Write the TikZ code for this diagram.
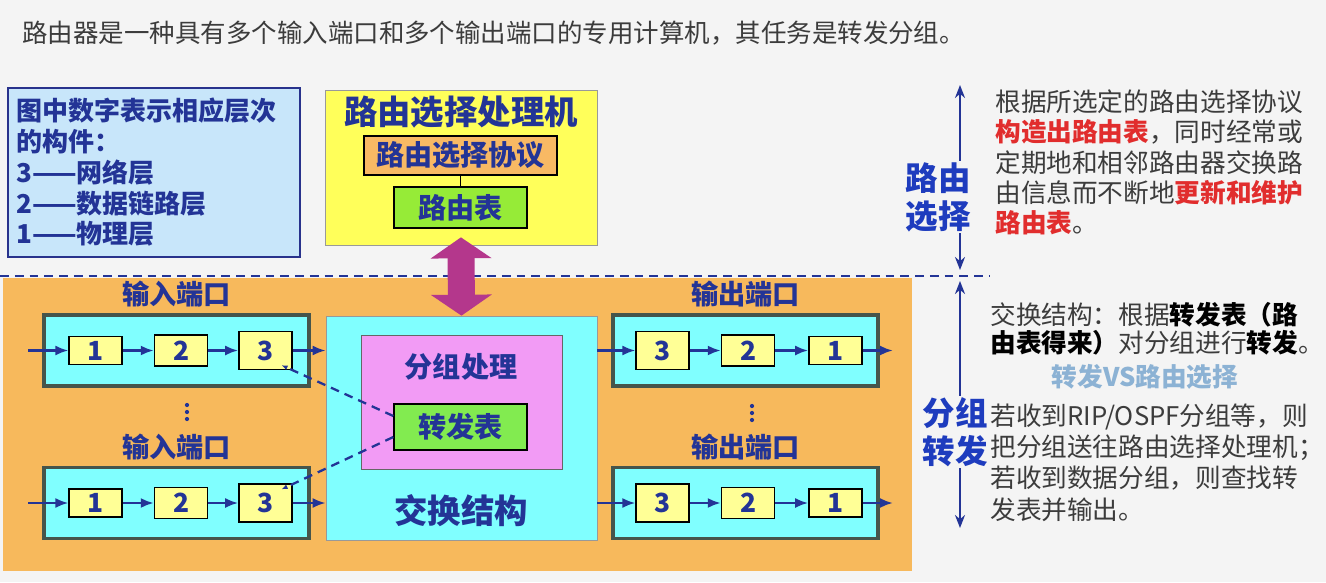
\documentclass[tikz,border=0pt]{standalone}
\usepackage{fontspec}
\setmainfont{Noto Sans CJK SC}
\usetikzlibrary{arrows.meta,positioning,calc}
\definecolor{bgcol}{RGB}{244,244,244}
\definecolor{orangebg}{RGB}{247,185,92}
\definecolor{txtblue}{RGB}{35,52,150}
\definecolor{lblblue}{RGB}{30,60,190}
\definecolor{lgfill}{RGB}{200,230,250}
\definecolor{lgedge}{RGB}{40,50,140}
\definecolor{rpyellow}{RGB}{255,255,90}
\definecolor{protoorange}{RGB}{248,185,100}
\definecolor{tblgreen}{RGB}{150,235,55}
\definecolor{ftgreen}{RGB}{130,235,80}
\definecolor{cyanfill}{RGB}{128,255,255}
\definecolor{pinkfill}{RGB}{242,155,245}
\definecolor{lyrfill}{RGB}{255,255,150}
\definecolor{magarr}{RGB}{180,55,140}
\definecolor{portedge}{RGB}{70,85,75}
\definecolor{hlred}{RGB}{225,45,45}
\definecolor{txtgray}{RGB}{60,60,60}
\definecolor{vsblue}{RGB}{140,178,212}
\newcommand{\hlr}[1]{\textcolor{hlred}{\bfseries #1}}
\newcommand{\hlb}[1]{\textcolor{black}{\bfseries #1}}
\tikzset{
    portbox/.style={rectangle, draw=portedge, fill=cyanfill, line width=1.8pt,
                    minimum width=5.3cm, minimum height=1.42cm},
    lyr/.style={rectangle, draw=black, fill=lyrfill, thick, inner sep=0pt,
                minimum width=1.06cm, minimum height=#1, text=txtblue,
                font=\fontsize{15}{18}\selectfont\bfseries},
    plbl/.style={text=txtblue, inner sep=1pt, font=\fontsize{15.5}{18}\selectfont\bfseries},
    tbl/.style={rectangle, draw=black, fill=#1, thick, text=txtblue,
                font=\fontsize{16}{19}\selectfont\bfseries},
    arr/.style={-{Latex[length=0.26cm,width=0.2cm]}, line width=1.4pt, draw=txtblue},
    dsh/.style={dash pattern=on 5pt off 3.5pt, line width=1.3pt, draw=txtblue,
                -{Latex[length=0.12cm,width=0.1cm]}},
    varr/.style={{Stealth[length=0.26cm,width=0.2cm]}-{Stealth[length=0.26cm,width=0.2cm]},
                 line width=1.3pt, draw=txtblue},
    sidelbl/.style={fill=bgcol, inner sep=1pt, align=center, text=lblblue,
                    font=\fontsize{18.5}{21.5}\selectfont\bfseries},
    rtext/.style={anchor=west, inner sep=0pt, align=left, text=txtgray},
}

\begin{document}
\begin{tikzpicture}[x=0.02cm, y=-0.02cm]
    \fill[bgcol] (0,0) rectangle (1326,582);
    \useasboundingbox (0,0) rectangle (1326,582);

    \node[anchor=west, inner sep=0pt, text=txtgray, font=\fontsize{14.5}{17}\selectfont] (title) at (22,33)
        {路由器是一种具有多个输入端口和多个输出端口的专用计算机，其任务是转发分组。};

    % legend
    \node[rectangle, draw=lgedge, fill=lgfill, line width=1.6pt, minimum width=5.84cm,
          minimum height=3.38cm, text width=5.5cm, align=left, text=txtblue,
          font=\fontsize{14.8}{17.5}\selectfont\bfseries] (legend) at (154,172.5)
        {图中数字表示相应层次\\的构件：\\3——网络层\\2——数据链路层\\1——物理层};

    % routing processor
    \node[rectangle, draw=black!40, fill=rpyellow, minimum width=5.44cm, minimum height=3.1cm] (rp) at (461,167.5) {};
    \node[text=txtblue, font=\fontsize{19}{22}\selectfont\bfseries] (rpname) at (461,112) {路由选择处理机};
    \node[tbl=protoorange, minimum width=3.86cm, minimum height=0.78cm] (proto) at (460.5,155.5) {路由选择协议};
    \node[tbl=tblgreen, minimum width=2.66cm, minimum height=0.82cm] (rtab) at (460.5,207.5) {路由表};
    \draw[thick] (proto) -- (rtab);

    % forwarding part
    \fill[orangebg] (3,278) rectangle (912,571);
    \draw[dash pattern=on 5pt off 3.4pt, line width=1.6pt, txtblue] (0,276) -- (990,276);

    \node[rectangle, draw=black!40, fill=cyanfill, minimum width=5.42cm, minimum height=4.48cm] (sw) at (461.5,428) {};
    \node[rectangle, draw=black!60, fill=pinkfill, minimum width=4.02cm, minimum height=2.68cm] (pk) at (461.5,402) {};
    \node[text=txtblue, font=\fontsize{16}{19}\selectfont\bfseries] (pkname) at (461,367) {分组处理};
    \node[tbl=ftgreen, minimum width=2.66cm, minimum height=0.92cm] (ft) at (460.5,427) {转发表};
    \node[text=txtblue, font=\fontsize{19}{22}\selectfont\bfseries] (swname) at (461,511) {交换结构};

    \draw[magarr, line width=0.54cm, shorten <=-0.16cm,
          {Triangle[length=0.42cm,width=1.2cm]}-{Triangle[length=0.42cm,width=1.2cm]}] (rp.south) -- (sw.north);

    % input ports
    \node[portbox] (ip1) at (176.5,350.5) {};
    \node[lyr=0.56cm, right=0.52cm of ip1.west] (ip1a) {1};
    \node[lyr=0.62cm, right=0.62cm of ip1a] (ip1b) {2};
    \node[lyr=0.76cm, right=0.6cm of ip1b] (ip1c) {3};
    \node[plbl, above=0.08cm of ip1] (ip1l) {输入端口};

    \node[portbox] (ip2) at (176.5,503) {};
    \node[lyr=0.56cm, right=0.52cm of ip2.west] (ip2a) {1};
    \node[lyr=0.62cm, right=0.62cm of ip2a] (ip2b) {2};
    \node[lyr=0.76cm, right=0.6cm of ip2b] (ip2c) {3};
    \node[plbl, above=0.08cm of ip2] (ip2l) {输入端口};

    \coordinate (ipdots) at (187,412);
    \coordinate (opdots) at (752,413);
    \foreach \dy in {-7,0,7} {
        \fill[txtblue] ($(ipdots)+(0,\dy)$) circle (1.2pt);
        \fill[txtblue] ($(opdots)+(0,\dy)$) circle (1.2pt);
    }

    \coordinate (ip1s) at (28,350.5);
    \coordinate (ip2s) at (28,503);
    \draw[arr] (ip1s) -- (ip1a);
    \draw[arr] (ip1a) -- (ip1b);
    \draw[arr] (ip1b) -- (ip1c);
    \draw[arr] (ip1c) -- (ip1c -| sw.west);
    \draw[arr] (ip2s) -- (ip2a);
    \draw[arr] (ip2a) -- (ip2b);
    \draw[arr] (ip2b) -- (ip2c);
    \draw[arr] (ip2c) -- (ip2c -| sw.west);

    \draw[dsh] ($(ft.west)+(0,-11)$) -- ($(ip1c.south east)+(-11,-5)$);
    \draw[dsh] ($(ft.west)+(0,10)$) -- ($(ip2c.north east)+(-11,6)$);

    % output ports
    \node[portbox] (op1) at (745.5,350.5) {};
    \node[lyr=0.76cm, right=0.48cm of op1.west] (op1a) {3};
    \node[lyr=0.62cm, right=0.62cm of op1a] (op1b) {2};
    \node[lyr=0.56cm, right=0.66cm of op1b] (op1c) {1};
    \node[plbl, above=0.08cm of op1] (op1l) {输出端口};

    \node[portbox] (op2) at (745.5,503) {};
    \node[lyr=0.76cm, right=0.48cm of op2.west] (op2a) {3};
    \node[lyr=0.62cm, right=0.62cm of op2a] (op2b) {2};
    \node[lyr=0.56cm, right=0.66cm of op2b] (op2c) {1};
    \node[plbl, above=0.08cm of op2] (op2l) {输出端口};

    \coordinate (op1e) at (893,350.5);
    \coordinate (op2e) at (893,503);
    \draw[arr] (op1a -| sw.east) -- (op1a);
    \draw[arr] (op1a) -- (op1b);
    \draw[arr] (op1b) -- (op1c);
    \draw[arr] (op1c) -- (op1e);
    \draw[arr] (op2a -| sw.east) -- (op2a);
    \draw[arr] (op2a) -- (op2b);
    \draw[arr] (op2b) -- (op2c);
    \draw[arr] (op2c) -- (op2e);

    % right column
    \coordinate (rsT) at (960,85);
    \coordinate (rsB) at (960,270);
    \coordinate (pfT) at (960,281);
    \coordinate (pfB) at (960,528);
    \draw[varr] (rsT) -- (rsB);
    \draw[varr] (pfT) -- (pfB);
    \node[sidelbl] (rslbl) at (938,197) {路由\\选择};
    \node[sidelbl] (pflbl) at (955,432) {分组\\转发};

    \node[rtext, font=\fontsize{14.6}{17.2}\selectfont] (rsdesc) at (995,162.5)
        {根据所选定的路由选择协议\\\hlr{构造出路由表}，同时经常或\\定期地和相邻路由器交换路\\由信息而不断地\hlr{更新和维护}\\\hlr{路由表}。};
    \node[rtext, font=\fontsize{14.6}{16}\selectfont] (swdesc) at (990,328.5)
        {交换结构：根据\hlb{转发表（路}\\\hlb{由表得来）}对分组进行\hlb{转发}。};
    \node[text=vsblue, font=\fontsize{14.6}{17}\selectfont\bfseries] (vs) at (1145,377) {转发VS路由选择};
    \node[rtext, font=\fontsize{14.6}{17.9}\selectfont] (pfdesc) at (990,462.5)
        {若收到RIP/OSPF分组等，则\\把分组送往路由选择处理机；\\若收到数据分组，则查找转\\发表并输出。};
\end{tikzpicture}
\end{document}
